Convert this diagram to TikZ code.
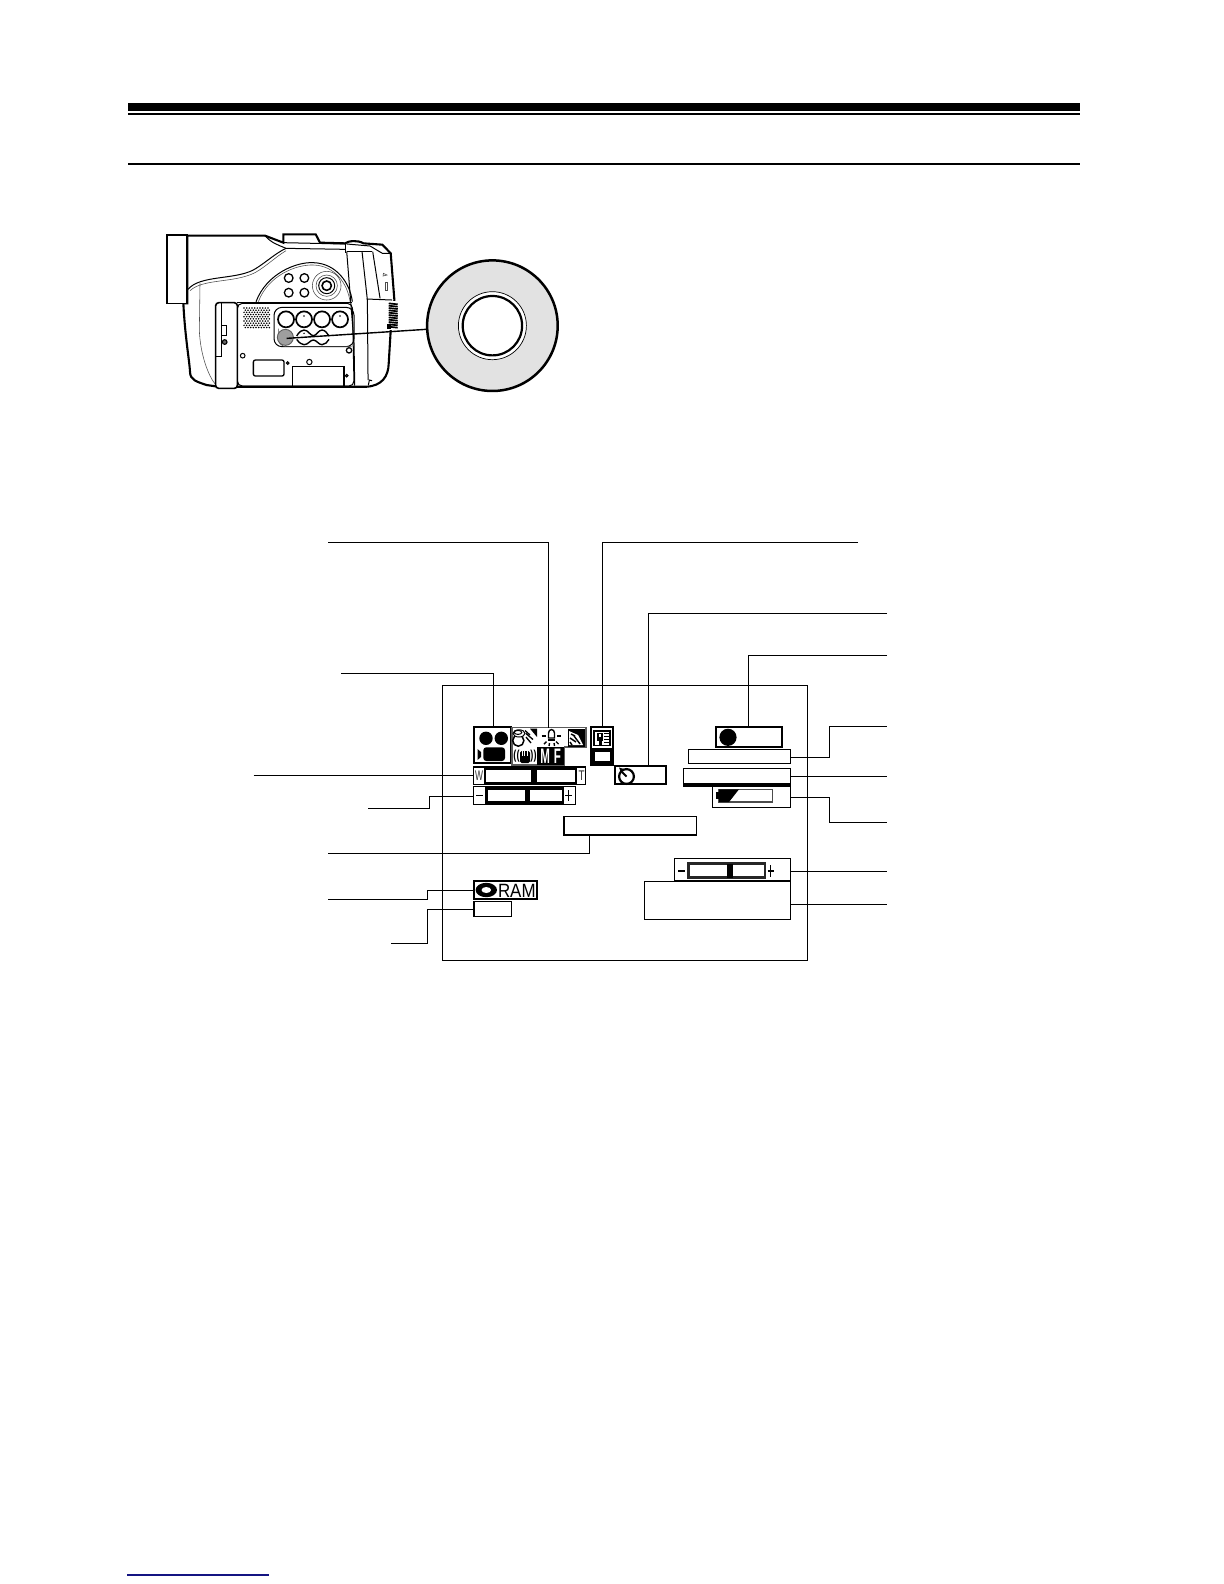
\documentclass[tikz,border=0pt]{standalone}
\usepackage{fontspec}
\setmainfont{Liberation Sans}
\usetikzlibrary{fit,calc}
\definecolor{navyline}{RGB}{20,20,130}
\definecolor{ringgray}{RGB}{226,226,226}
\definecolor{iconedge}{RGB}{90,90,90}
\tikzset{
  lead/.style={line width=0.6pt,black},
  osd/.style={draw=black,line width=0.65pt,fill=white,inner sep=0pt,outer sep=0pt},
  cam/.style={line width=0.5pt,black},
  camthin/.style={line width=0.28pt,black!70},
  camfat/.style={line width=1.05pt,black},
  osdtext/.style={inner sep=0pt,outer sep=0pt,font=\fontsize{9}{9}\selectfont},
  blk/.style={fill=black,draw=none},
}
\begin{document}
\begin{tikzpicture}[x=0.5pt,y=-0.5pt]
\useasboundingbox (0,0) rectangle (1224,1584);
% page rules
\fill[black] (128,103) rectangle (1080,111);
\fill[black] (128,113.3) rectangle (1080,115);
\fill[black] (128,163) rectangle (1080,165);
\draw[navyline,line width=0.75pt] (127,1575) -- (269,1575);

% camera, drawn in the 3x frame of its crop
\begin{scope}[shift={(150,220)},x=0.1667pt,y=-0.1667pt]
  % body silhouette
  \draw[camfat,fill=white] (112,47) -- (345,47) -- (400,68) -- (400,43) -- (497,43) -- (510,68) -- (585,70)
    .. controls (595,62) and (625,60) .. (640,70) -- (697,74) -- (722,100) -- (733,240) -- (722,330) -- (716,430)
    .. controls (715,470) and (695,497) .. (650,500) -- (205,500) -- (170,495)
    .. controls (140,485) and (120,480) .. (120,455) .. controls (118,420) and (105,350) .. (100,250) -- (112,250) -- cycle;
  \draw[line width=0.85pt,fill=white] (52,45) rectangle (112,250);
  % hood and view curve
  \draw[cam] (345,47) .. controls (365,70) and (385,75) .. (408,85);
  \draw[cam] (400,68) -- (585,72);
  \draw[cam] (585,72) -- (585,98);
  \draw[cam] (408,85) -- (585,88);
  \draw[cam] (114,208) .. controls (150,165) and (250,180) .. (310,150) .. controls (345,130) and (375,100) .. (408,85);
  \draw[camthin] (120,212) .. controls (160,175) and (250,190) .. (315,158) .. controls (350,138) and (375,112) .. (408,92);
  \draw[camthin] (150,190) -- (148,330) .. controls (150,400) and (175,470) .. (198,495);
  % lens barrel strips
  \draw[cam] (590,95) -- (665,95);
  \draw[cam] (590,95) -- (612,370) -- (614,497);
  \draw[cam] (636,95) -- (652,240) -- (654,480);
  \draw[cam] (668,95) -- (690,235);
  \draw[cam] (650,237) -- (726,240);
  \draw[cam] (590,72) -- (660,78) -- (697,100) -- (722,100);
  % dial
  \fill[white] (712,244) rectangle (746,330);
  \foreach \yy in {250,257,...,320} {\draw[line width=0.85pt] (716,\yy) -- (743,\yy+3);}
  \fill (712,312) rectangle (724,328);
  % marker
  \draw[camthin] (699,168) -- (711,165) -- (700,160) -- cycle;
  \draw[camthin] (705,187) rectangle (712,212);
  % arc panel with top buttons
  \draw[cam] (318,245) .. controls (350,160) and (440,125) .. (490,128) .. controls (560,130) and (600,190) .. (607,245);
  \draw[camthin] (325,245) .. controls (355,165) and (440,133) .. (490,135) .. controls (555,137) and (592,190) .. (600,245);
  \draw[cam] (262,247) -- (607,247);
  \foreach \cx/\cy in {416/174,463/174,416/218,463/218} {\draw[line width=0.65pt] (\cx,\cy) circle (13);}
  \draw[camthin] (530,197) circle (43);
  \draw[camthin] (530,197) circle (32);
  \draw[cam] (530,197) circle (24);
  \draw[line width=0.8pt] (530,197) circle (14);
  % lower panel
  \draw[cam,rounded corners=2.5pt] (262,250) -- (607,250) -- (612,498) -- (262,498) -- cycle;
  % flap
  \draw[line width=0.8pt,fill=white,rounded corners=1.5pt] (197,248) rectangle (262,505);
  \draw[cam] (213,250) -- (213,410) -- (197,410);
  \draw[cam] (214,316) rectangle (230,346);
  \draw[line width=0.55pt,fill=black!60] (224,366) circle (7);
  % speaker
  \foreach \row in {0,...,4}{
    \foreach \col in {0,...,9}{
      \fill (282+\col*8,264+\row*13) circle (2.6);
      \fill (286+\col*8,270.5+\row*13) circle (2.6);
    }
  }
  % button group
  \draw[cam,rounded corners=4pt] (372,262) rectangle (612,380);
  \draw[camthin,rounded corners=4pt] (385,326) -- (385,380) -- (605,380);
  \foreach \cx in {408,462,516,570} {\draw[line width=0.85pt,fill=white] (\cx,298) circle (24);}
  \fill (462,288) circle (2.5);
  \fill (570,288) circle (2.5);
  \draw[line width=0.7pt] (440,348) .. controls (447,335) and (455,330) .. (462,330) .. controls (475,330) and (480,347) .. (490,347)
     .. controls (500,347) and (505,330) .. (516,330) .. controls (525,330) and (532,340) .. (537,348);
  \draw[line width=0.7pt] (440,358) .. controls (447,368) and (455,374) .. (462,374) .. controls (475,374) and (480,360) .. (490,360)
     .. controls (500,360) and (505,374) .. (516,374) .. controls (525,374) and (532,366) .. (537,358);
  \fill (462,340) circle (2.5);
  \draw[line width=0.45pt,draw=black!65,fill=black!38] (406,352) circle (24);
  % small parts
  \draw[cam] (278,407) circle (7);
  \draw[line width=0.65pt] (597,391) circle (8);
  \draw[cam] (478,426) circle (8);
  \draw[cam,fill=black!50] (413,429) circle (4);
  \draw[cam,fill=black!50] (590,467) circle (4);
  \draw[line width=0.65pt,rounded corners=1pt] (310,420) rectangle (402,468);
  \draw[line width=0.65pt] (428,500) -- (428,440) -- (582,440) -- (582,500);
  \draw[cam] (655,495) -- (658,480) -- (666,482);
  % magnified button
  \node[circle,draw=black,line width=1.25pt,fill=ringgray,minimum size=65.3pt,inner sep=0pt] (bigbutton) at (1027,317) {};
  \node[circle,draw=black,line width=0.35pt,fill=white,minimum size=34pt,inner sep=0pt] (bigring) at (1027,317) {};
  \node[circle,draw=black,line width=1.1pt,fill=white,minimum size=29.7pt,inner sep=0pt] (bigface) at (1027,317) {};
  \coordinate (buttonspot) at (410,355);
  \draw[line width=0.7pt] (buttonspot) -- (bigbutton.west |- 0,328);
\end{scope}

% screen frame
\node[fit={(442.5,685.5)(807.5,960.5)},draw=black,line width=0.6pt,inner sep=0pt,outer sep=0pt] (screen) {};

% OSD boxes
\node[fit={(474.3,727.3)(511,763.3)},osd,line width=1.1pt] (scene) {};
\fill (486,738.3) circle (6.7);
\fill (501.3,738.3) circle (6.7);
\fill[rounded corners=1.5pt] (483.3,747.3) rectangle (505,761);
\fill (477.5,749) -- (481,752) -- (481,757) -- (477.5,760) -- cycle;
\node[fit={(512,727.5)(585.7,747)},inner sep=0pt,outer sep=0pt] (iconrow) {};
\draw[draw=iconedge,line width=0.85pt] (512,727.5) -- (585.7,727.5) -- (585.7,747) -- (564.5,747) -- (564.5,765.3) -- (512,765.3) -- cycle;
% snow icon
\draw[line width=0.75pt] (518.3,740.6) circle (5.6);
\draw[line width=0.5pt,fill=white] (519,733.4) ellipse (6 and 3.6);
\draw[line width=0.5pt] (518,732.4) ellipse (3.8 and 2);
\fill (530,728.7) -- (537,728.7) -- (537,737) -- cycle;
\foreach \xa/\ya/\xb/\yb in {525/730.5/530/735,526/733.5/533/739.5,526/737/531/743}{\draw[line width=0.65pt] (\xa,\ya) -- (\xb,\yb);}
% bulb icon
\draw[line width=0.7pt] (548.5,738) -- (548.5,733) .. controls (548.5,728.5) and (554.5,728.5) .. (554.5,733) -- (554.5,738) -- cycle;
\draw[line width=0.9pt] (548,739.8) -- (555,739.8);
\foreach \xa/\ya/\xb/\yb in {541.5/736/545.5/736,557/736/561/736,544/744/546.5/741.5,558.5/744/556/741.5,549/746/549.5/743,554.5/746/554/743}{\draw[line width=0.7pt] (\xa,\ya) -- (\xb,\yb);}
% sun icon
\node[fit={(567.5,728.5)(585,746.5)},blk,inner sep=0pt] (sunset) {};
\fill[white] (569,731) -- (578,735) -- (583,745) -- (569,745) -- cycle;
\foreach \xa/\ya/\xb/\yb in {571/734/575/736,570/738/576/742,574/736/580/744,570/742/572/745}{\draw[line width=0.7pt] (\xa,\ya) -- (\xb,\yb);}
% hand icon
\node[osdtext,font=\fontsize{6.5}{7}\selectfont\bfseries,xscale=0.7] (handl) at (516.5,756.5) {((};
\node[osdtext,font=\fontsize{6.5}{7}\selectfont\bfseries,xscale=0.7] (handr) at (533.5,756.5) {))};
\fill[rounded corners=0.8pt] (520,751) rectangle (530,763);
\foreach \hx in {522,524.5,527}{\draw[white,line width=0.25pt] (\hx,750.5) -- (\hx,756);}
% MF
\node[fit={(537.3,747.3)(564,765.3)},blk,inner sep=0pt] (mfbox) {};
\node[osdtext,white,font=\fontsize{10.5}{10.5}\selectfont\bfseries,xscale=0.55] (mftext) at (mfbox.center) {M\,\,F};
% mic box
\node[fit={(590.7,727.3)(613.3,765)},osd,line width=1pt] (micbox) {};
\fill (593,729.5) rectangle (611,746);
\fill[white] (595,731.5) rectangle (609,744.5);
\fill (596.5,732.5) rectangle (603,741);
\fill[white] (598.5,734) rectangle (601,737);
\fill (599,741) rectangle (601.5,745);
\foreach \my in {733.5,736.5,739.5,742.5}{\draw[line width=0.9pt] (604,\my) -- (608.5,\my);}
\fill (592,747.7) rectangle (612.5,765);
\fill[white] (594.5,751.7) rectangle (610,760.7);
% zoom bar
\node[fit={(473.3,767)(585.7,784.3)},osd,line width=0.55pt] (zoombar) {};
\node[fit={(485,769.3)(576,783.3)},osd,line width=1.1pt] (zoominner) {};
\fill (531,769.3) rectangle (536.7,783.3);
\node[osdtext,font=\fontsize{7}{7}\selectfont,xscale=0.6,text=black!80] (zoomw) at (479,776) {W};
\node[osdtext,font=\fontsize{7}{7}\selectfont,xscale=0.7,text=black!80] (zoomt) at (581.6,776) {T};
% timer
\node[fit={(614.7,766.3)(666.3,784.3)},osd,line width=0.9pt] (timerbox) {};
\draw[line width=1.1pt] (626.5,776.5) circle (7.4);
\draw[line width=1pt] (626.5,776.5) -- (622,772);
\fill (619,767.5) -- (624,769) -- (621,772.5) -- cycle;
% exposure bar
\node[fit={(473.3,786.3)(575.3,804.3)},osd,line width=0.65pt] (expbar) {};
\node[fit={(486.3,788.3)(563,802.3)},osd,line width=1.2pt] (expinner) {};
\fill (525,788.3) rectangle (530.3,802.3);
\draw[line width=0.75pt] (476,795.5) -- (483,795.5);
\draw[line width=0.7pt] (565,795.5) -- (572,795.5);
\draw[line width=0.7pt] (568.5,790) -- (568.5,801);
% message box
\node[fit={(564,816.7)(696.3,835)},osd] (msgbox) {};
\fill (564,834.2) rectangle (696.3,835.3);
% RAM
\node[fit={(473.7,880.7)(536.7,899.3)},osd,line width=0.95pt] (rambox) {};
\fill (486.3,890) ellipse (10.7 and 7.2);
\fill[white] (486.3,890) ellipse (4.8 and 3);
\node[osdtext,font=\fontsize{9.6}{9.6}\selectfont,xscale=0.88,inner sep=0pt] (ramtext) at (516.8,891) {RAM};
\node[fit={(474,901.7)(511.7,916.3)},osd,line width=0.75pt] (discbox) {};
% right column
\node[fit={(716.3,726.7)(781.7,747.3)},osd,line width=1.05pt] (recbox) {};
\fill (728,737.3) circle (8.6);
\node[fit={(688.3,749.3)(790.7,763.7)},osd] (boxa) {};
\fill (688.3,762.6) rectangle (790.7,764.3);
\node[fit={(683.3,768.3)(790.7,784.7)},osd] (boxb) {};
\node[fit={(712.3,785)(790.7,807.3)},osd] (boxc) {};
\fill (683.3,783.3) rectangle (790.7,786.5);
\draw[line width=0.55pt,draw=black!70] (719,789.3) rectangle (772.7,802);
\fill (716,792) rectangle (719,799);
\fill (719,789.3) -- (739,789.3) -- (729,802) -- (719,802) -- cycle;
\node[fit={(674.3,858.7)(790.7,880.3)},osd] (boxd) {};
\draw[line width=1.3pt,draw=black!85] (688.3,863.7) rectangle (765,877.7);
\fill (726.7,863.7) rectangle (732.7,877.7);
\draw[line width=1pt] (678,871) -- (685,871);
\draw[line width=0.6pt] (767.5,871) -- (774,871);
\draw[line width=0.6pt] (770.5,865) -- (770.5,877);
\node[fit={(644.3,881.3)(790.7,919.3)},osd] (boxe) {};
\fill (674.3,879.6) rectangle (790.7,881.5);

% leader ends and bends
\coordinate (endscene) at (341,673.5);   \coordinate (bendscene) at (493.5,673.5);
\coordinate (endicons) at (328,542.5);   \coordinate (bendicons) at (548.5,542.5);
\coordinate (endmicl) at (858,542.5);    \coordinate (bendmicl) at (602.5,542.5);
\coordinate (endtimer) at (887,613.5);   \coordinate (bendtimer) at (648.5,613.5);
\coordinate (endrec) at (887,655.5);     \coordinate (bendrec) at (748.5,655.5);
\coordinate (endzoom) at (253.5,775.5);
\coordinate (endexp) at (368,808.5);
\coordinate (endmsg) at (328,853.5);     \coordinate (bendmsg) at (589.5,853.5);
\coordinate (endram) at (328,899.5);
\coordinate (enddisc) at (391,943.5);
\coordinate (enda) at (887,726.5);
\coordinate (endb) at (887,776.5);
\coordinate (endc) at (887,822.5);
\coordinate (endd) at (887,871.5);
\coordinate (ende) at (887,904.5);

\draw[lead] (endscene) -- (bendscene) -- (bendscene |- scene.north);
\draw[lead] (endicons) -- (bendicons) -- (bendicons |- iconrow.north);
\draw[lead] (endmicl) -- (bendmicl) -- (bendmicl |- micbox.north);
\draw[lead] (endtimer) -- (bendtimer) -- (bendtimer |- timerbox.north);
\draw[lead] (endrec) -- (bendrec) -- (bendrec |- recbox.north);
\draw[lead] (endzoom) -- (endzoom -| zoombar.west);
\draw[lead] (endexp) -- (429.5,808.5) -- (429.5,796.5) -- (expbar.west |- 0,796.5);
\draw[lead] (endmsg) -- (bendmsg) -- (bendmsg |- msgbox.south);
\draw[lead] (endram) -- (427.5,899.5) -- (427.5,890.5) -- (rambox.west |- 0,890.5);
\draw[lead] (enddisc) -- (427.5,943.5) -- (427.5,909.5) -- (discbox.west |- 0,909.5);
\draw[lead] (boxa.east |- 0,757.5) -- (829.5,757.5) -- (829.5,726.5) -- (enda);
\draw[lead] (boxb.east |- endb) -- (endb);
\draw[lead] (boxc.east |- 0,797.5) -- (829.5,797.5) -- (829.5,822.5) -- (endc);
\draw[lead] (boxd.east |- endd) -- (endd);
\draw[lead] (boxe.east |- ende) -- (ende);
\end{tikzpicture}
\end{document}
